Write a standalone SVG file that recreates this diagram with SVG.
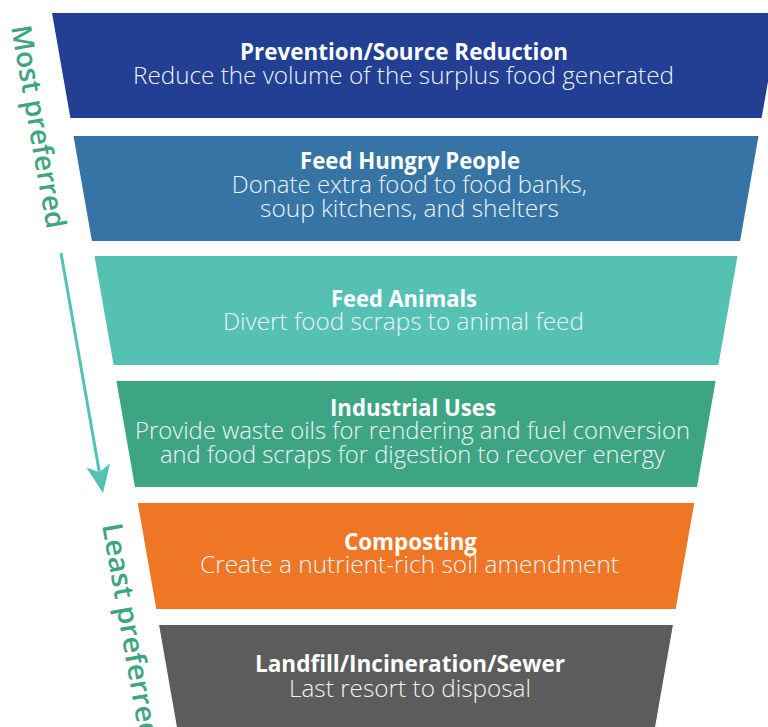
<svg xmlns="http://www.w3.org/2000/svg" width="768" height="727" viewBox="0 0 768 727">
<style>
.t{font-family:"Open Sans","Noto Sans","Liberation Sans",sans-serif;font-size:24px;font-weight:700;fill:#ffffff;text-anchor:middle}
.s{font-family:"Open Sans","Noto Sans","Liberation Sans",sans-serif;font-size:23px;font-weight:300;fill:#eef3f7;text-anchor:middle}
.side{font-family:"Open Sans","Noto Sans","Liberation Sans",sans-serif;font-size:28px;font-weight:600;fill:#3ea57f}
</style>
<defs>
<marker id="ah" markerUnits="userSpaceOnUse" viewBox="0 -12 28 24" markerWidth="28" markerHeight="24" refX="7" refY="0" orient="auto">
<path d="M0,-12 L28,0 L0,12 L7,0 Z" fill="#55c1b3"/>
</marker>
</defs>
<rect width="768" height="727" fill="#ffffff"/>
<g id="band1">
<polygon points="52,13 780,13 761.6,118 70.4,118" fill="#223f94"/>
<text class="t" x="404" y="60" textLength="328" lengthAdjust="spacingAndGlyphs">Prevention/Source Reduction</text>
<text class="s" x="403.5" y="84" textLength="541" lengthAdjust="spacingAndGlyphs">Reduce the volume of the surplus food generated</text>
</g>
<g id="band2">
<polygon points="73.5,136 758.5,136 740.1,241 91.9,241" fill="#3574a4"/>
<text class="t" x="410" y="169" textLength="220" lengthAdjust="spacingAndGlyphs">Feed Hungry People</text>
<text class="s" x="409.3" y="193.3" textLength="355" lengthAdjust="spacingAndGlyphs">Donate extra food to food banks,</text>
<text class="s" x="409.5" y="217.3" textLength="299" lengthAdjust="spacingAndGlyphs">soup kitchens, and shelters</text>
</g>
<g id="band3">
<polygon points="94.5,256 737.5,256 718.4,365 113.6,365" fill="#55c1b3"/>
<text class="t" x="404" y="306.7" textLength="146" lengthAdjust="spacingAndGlyphs">Feed Animals</text>
<text class="s" x="403.4" y="330" textLength="361" lengthAdjust="spacingAndGlyphs">Divert food scraps to animal feed</text>
</g>
<g id="band4">
<polygon points="116.4,381 715.6,381 697,487 135,487" fill="#3ea584"/>
<text class="t" x="413" y="415.7" textLength="166" lengthAdjust="spacingAndGlyphs">Industrial Uses</text>
<text class="s" x="412.5" y="439.3" textLength="555" lengthAdjust="spacingAndGlyphs">Provide waste oils for rendering and fuel conversion</text>
<text class="s" x="412.5" y="463.3" textLength="505" lengthAdjust="spacingAndGlyphs">and food scraps for digestion to recover energy</text>
</g>
<g id="band5">
<polygon points="137.75,503 694.25,503 675.7,609 156.3,609" fill="#ef7625"/>
<text class="t" x="410.5" y="550" textLength="133" lengthAdjust="spacingAndGlyphs">Composting</text>
<text class="s" x="409.5" y="573.3" textLength="419" lengthAdjust="spacingAndGlyphs">Create a nutrient-rich soil amendment</text>
</g>
<g id="band6">
<polygon points="159.1,625 672.9,625 654.35,731 177.65,731" fill="#5b5c5b"/>
<text class="t" x="410" y="672.3" textLength="310" lengthAdjust="spacingAndGlyphs">Landfill/Incineration/Sewer</text>
<text class="s" x="410" y="696.7" textLength="242" lengthAdjust="spacingAndGlyphs">Last resort to disposal</text>
</g>
<g id="label-most">
<text class="side" transform="translate(11,27) rotate(80)" textLength="206" lengthAdjust="spacingAndGlyphs">Most preferred</text>
</g>
<g id="label-least">
<text class="side" transform="translate(102,525) rotate(80)" textLength="220" lengthAdjust="spacingAndGlyphs">Least preferred</text>
</g>
<g id="connectors">
<line x1="61" y1="253" x2="99.4" y2="472.3" stroke="#55c1b3" stroke-width="3" marker-end="url(#ah)"/>
</g>
</svg>
